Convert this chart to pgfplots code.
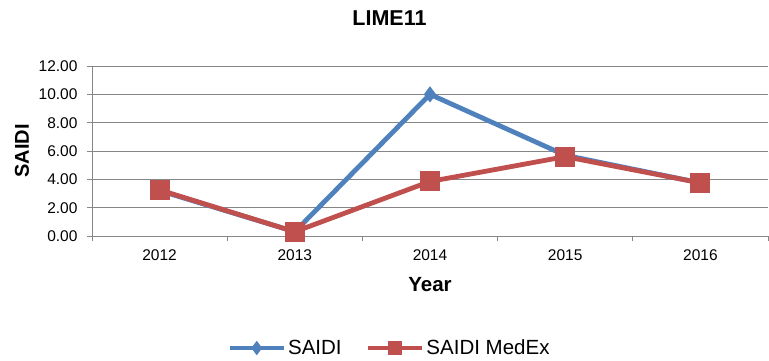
\documentclass[border=0pt]{standalone}
\usepackage{pgfplots}
\pgfplotsset{compat=1.18}
\usepackage{fontspec}
\setmainfont{Liberation Sans}
\definecolor{sblue}{HTML}{4F81BD}
\definecolor{sred}{HTML}{C0504D}
\definecolor{gridg}{HTML}{868686}
\begin{document}
\begin{tikzpicture}[x=1pt,y=1pt]
\useasboundingbox (-92,-124) rectangle (677,236);
\begin{axis}[
  at={(0,0)}, anchor=south west,
  scale only axis, width=676pt, height=170pt,
  xmin=-0.5, xmax=4.5, ymin=0, ymax=12,
  xtick={0,1,2,3,4},
  xticklabels={2012,2013,2014,2015,2016},
  minor xtick={-0.5,0.5,1.5,2.5,3.5,4.5},
  major x tick style={draw=none},
  ytick={0,2,4,6,8,10,12},
  yticklabel={\pgfmathprintnumber[fixed,fixed zerofill,precision=2]{\tick}},
  /pgf/number format/assume math mode=true,
  tick align=outside,
  major tick length=5pt, minor tick length=5pt,
  tick style={gridg, line width=0.9pt},
  ymajorgrids, grid style={gridg, line width=0.9pt},
  axis x line*=bottom, axis y line*=left,
  axis line style={gridg, line width=0.9pt},
  ticklabel style={font=\fontsize{15.5}{17}\selectfont, text=black},
  title={\textbf{LIME11}},
  title style={font=\fontsize{21.5}{24}\selectfont, at={(0.44,1)}, anchor=center, yshift=42pt},
  xlabel={\textbf{Year}},
  xlabel style={font=\fontsize{20.5}{23}\selectfont, at={(0.50,0)}, anchor=center, yshift=-49pt},
  ylabel={\textbf{SAIDI}},
  ylabel style={font=\fontsize{20}{22}\selectfont, at={(-0.1036,0.5)}, anchor=center},
  yticklabel style={xshift=-6pt},
  xticklabel style={yshift=-5pt},
  legend style={at={(0.44,-0.659)}, anchor=center, draw=none, legend columns=2,
     font=\fontsize{20.5}{23}\selectfont, /tikz/every even column/.append style={column sep=22pt}},
  legend image code/.code={
     \draw[#1, mark=none] (0pt,0pt) -- (54pt,0pt);
     \draw[#1, only marks, mark options={scale=0.5}] plot coordinates {(27pt,0pt)};
  },
  clip=false,
]
\addplot[sblue, line width=4.8pt, mark=diamond*, mark size=6.5pt, mark options={solid, line width=2pt}]
  coordinates {(0,3.2) (1,0.3) (2,10.0) (3,5.7) (4,3.75)};
\addlegendentry{SAIDI}
\addplot[sred, line width=4.8pt, mark=square*, mark size=9pt, mark options={solid, line width=2pt}]
  coordinates {(0,3.25) (1,0.3) (2,3.85) (3,5.6) (4,3.75)};
\addlegendentry{SAIDI MedEx}
\end{axis}
\end{tikzpicture}
\end{document}
